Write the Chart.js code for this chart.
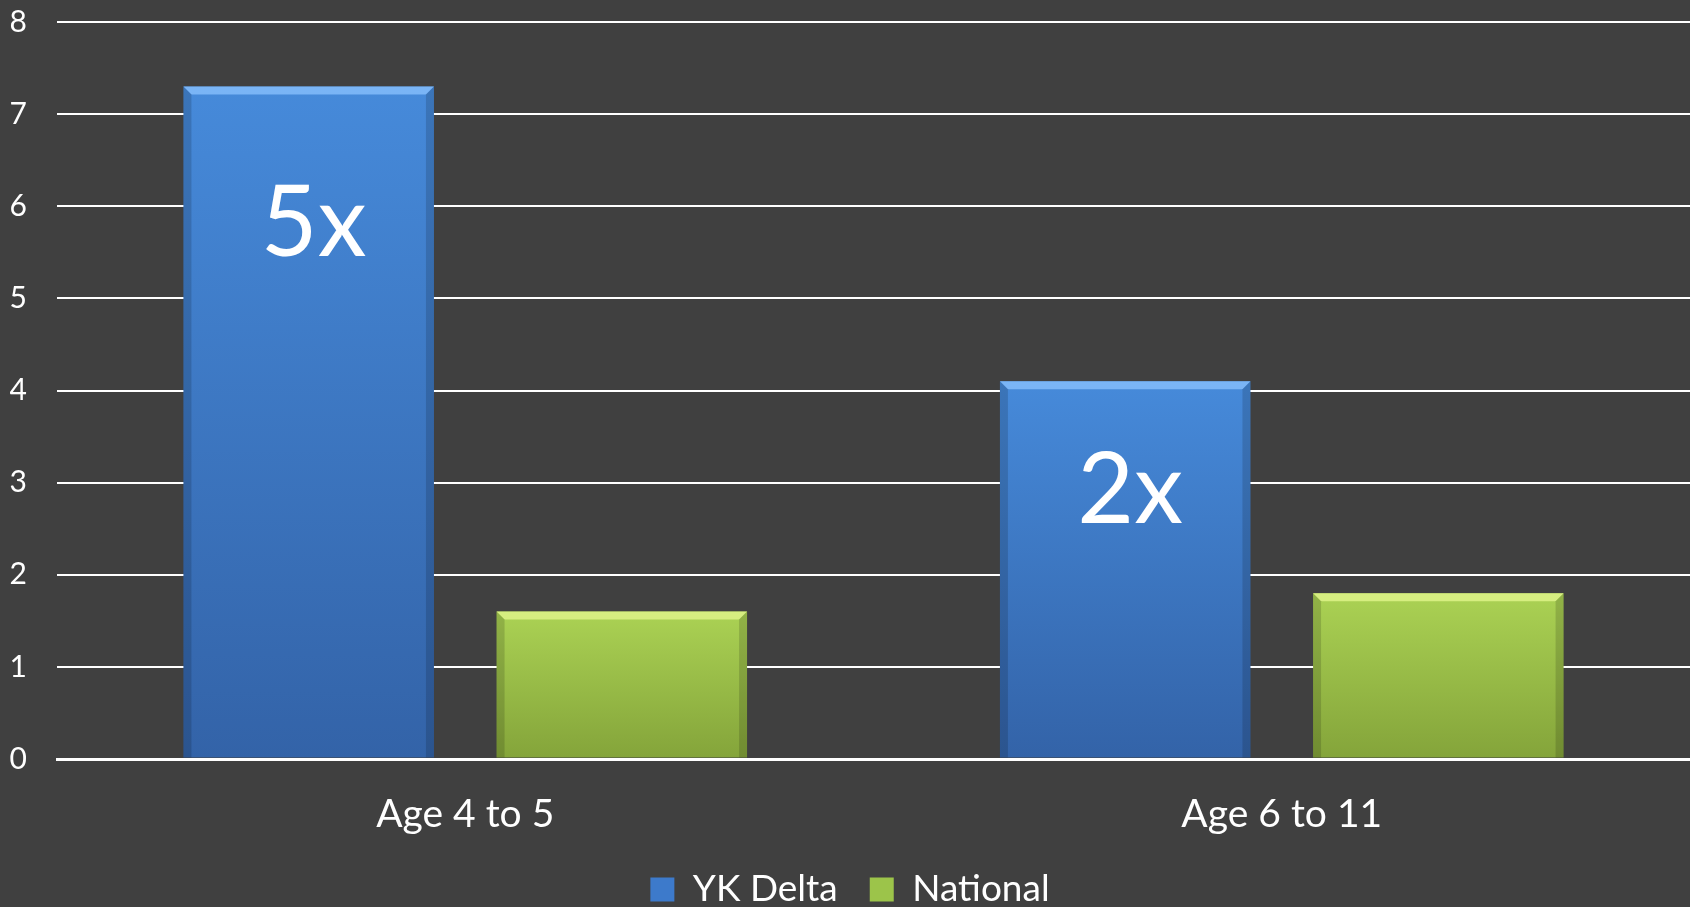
<!DOCTYPE html>
<html lang="en">
<head>
  <meta charset="UTF-8" />
  <title>YK Delta vs National</title>
  <script src="https://cdn.jsdelivr.net/npm/chart.js"></script>
  <style>
    html, body {
      margin: 0;
      padding: 0;
      background: #404040;
      overflow: hidden;
    }
    #wrap {
      width: 1690px;
      height: 907px;
      position: relative;
    }
  </style>
</head>
<body>
  <div id="wrap"><canvas id="chart"></canvas></div>

  <script>
    const categories = ['Age 4 to 5', 'Age 6 to 11'];
    const ykDelta = [7.3, 4.1];
    const national = [1.6, 1.8];
    const ratioLabels = ['5x', '2x'];
    const ratioLabelY = [5.8, 2.9];   // where the ratio text sits, in axis units
    const yTicks = [0, 1, 2, 3, 4, 5, 6, 7, 8];

    const FONT = 'Lato, "Open Sans", sans-serif';

    // vertical gradient from the bar's top down to zero
    function grad(top, bottom) {
      return (ctx) => {
        const chart = ctx.chart;
        const y = chart.scales.y;
        if (!chart.chartArea || !y || ctx.raw == null) return top;
        const g = chart.ctx.createLinearGradient(0, y.getPixelForValue(ctx.raw), 0, y.getPixelForValue(0));
        g.addColorStop(0, top);
        g.addColorStop(1, bottom);
        return g;
      };
    }

    // bevel highlight + ratio text on the bars
    const barDecor = {
      id: 'barDecor',
      afterDatasetsDraw(chart) {
        const c = chart.ctx;
        const bevels = ['rgba(140,195,255,0.75)', 'rgba(225,245,140,0.8)'];
        chart.data.datasets.forEach((ds, di) => {
          chart.getDatasetMeta(di).data.forEach(bar => {
            const l = bar.x - bar.width / 2, r = bar.x + bar.width / 2;
            const t = bar.y, b = bar.base, k = 8;
            c.save();
            c.fillStyle = bevels[di];
            c.beginPath();
            c.moveTo(l, t); c.lineTo(r, t); c.lineTo(r - k, t + k); c.lineTo(l + k, t + k);
            c.closePath(); c.fill();
            c.fillStyle = 'rgba(0,0,0,0.15)';
            c.beginPath();
            c.moveTo(l, t); c.lineTo(l + k, t + k); c.lineTo(l + k, b); c.lineTo(l, b);
            c.closePath(); c.fill();
            c.beginPath();
            c.moveTo(r, t); c.lineTo(r - k, t + k); c.lineTo(r - k, b); c.lineTo(r, b);
            c.closePath(); c.fill();
            c.restore();
          });
        });
        const y = chart.scales.y;
        const meta = chart.getDatasetMeta(0);
        c.save();
        c.fillStyle = '#ffffff';
        c.font = '98px ' + FONT;
        c.textAlign = 'center';
        c.textBaseline = 'middle';
        ratioLabels.forEach((txt, i) => {
          const bar = meta.data[i];
          c.fillText(txt, bar.x + 5, y.getPixelForValue(ratioLabelY[i]));
        });
        c.restore();
      }
    };

    const ctx = document.getElementById('chart').getContext('2d');

    new Chart(ctx, {
      type: 'bar',
      data: {
        labels: categories,
        datasets: [
          {
            label: 'YK Delta',
            data: ykDelta,
            backgroundColor: grad('#468ada', '#3363a8'),
            legendColor: '#3d7acb'
          },
          {
            label: 'National',
            data: national,
            backgroundColor: grad('#abd254', '#84a43a'),
            legendColor: '#9cc44a'
          }
        ]
      },
      options: {
        responsive: true,
        maintainAspectRatio: false,
        animation: false,
        layout: { padding: { left: 10, right: 0, top: 22, bottom: -11 } },
        datasets: {
          bar: { categoryPercentage: 0.767, barPercentage: 0.8 }
        },
        plugins: {
          tooltip: { enabled: false },
          legend: {
            position: 'bottom',
            labels: {
              color: '#ffffff',
              font: { family: FONT, size: 37 },
              boxWidth: 24,
              boxHeight: 24,
              padding: 32,
              generateLabels(chart) {
                return chart.data.datasets.map((ds, i) => ({
                  text: ds.label,
                  fillStyle: ds.legendColor,
                  strokeStyle: ds.legendColor,
                  lineWidth: 0,
                  fontColor: '#ffffff',
                  datasetIndex: i
                }));
              }
            }
          }
        },
        scales: {
          x: {
            grid: { display: false, drawTicks: false },
            border: { display: true, color: '#ffffff', width: 3 },
            ticks: {
              color: '#ffffff',
              font: { family: FONT, size: 39 },
              padding: 32
            },
            afterFit(scale) { scale.height = 80; }
          },
          y: {
            min: 0,
            max: 8,
            afterBuildTicks(scale) {
              scale.ticks = yTicks.map(v => ({ value: v }));
            },
            afterFit(scale) {
              scale.width = 47;
              scale.paddingTop = 0;
              scale.paddingBottom = 0;
            },
            grid: {
              color: '#ffffff',
              lineWidth: (c) => (c.tick && c.tick.value === 0 ? 3 : 2),
              drawTicks: false
            },
            border: { display: false },
            ticks: {
              color: '#ffffff',
              font: { family: FONT, size: 30 },
              padding: 30
            }
          }
        }
      },
      plugins: [barDecor]
    });
  </script>
</body>
</html>
